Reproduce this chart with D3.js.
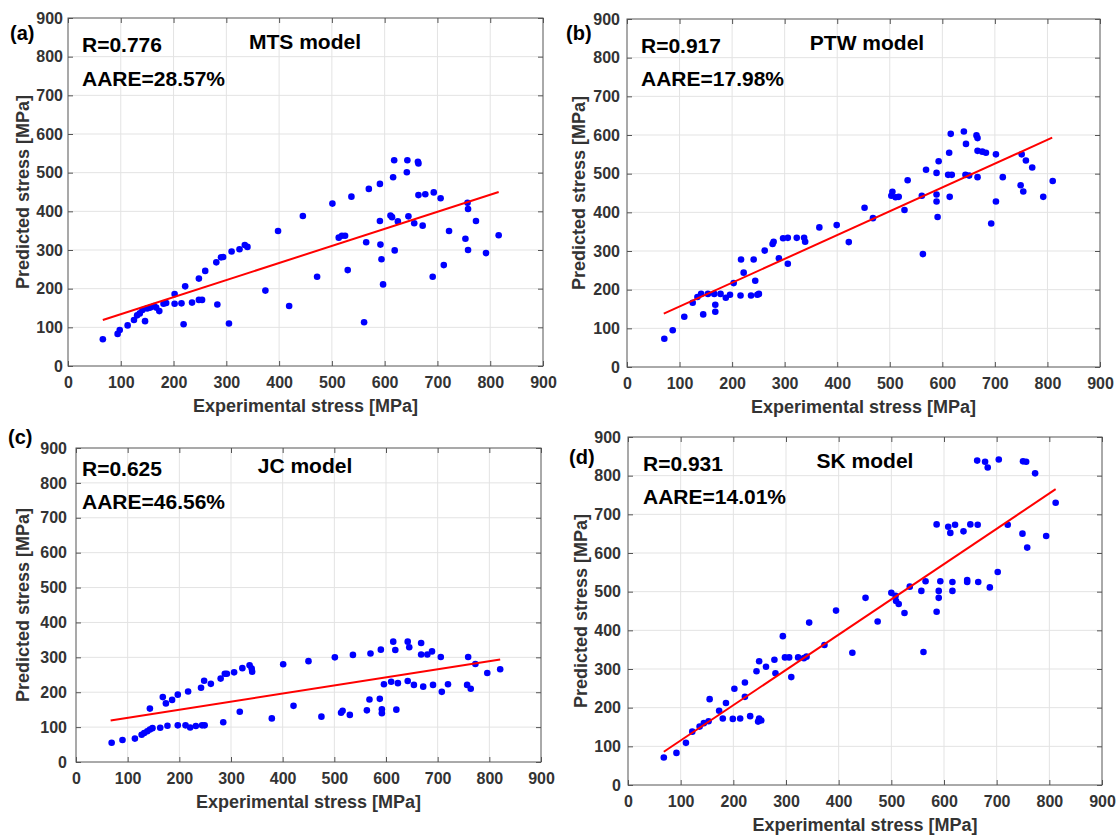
<!DOCTYPE html>
<html><head><meta charset="utf-8">
<script src="https://cdn.jsdelivr.net/npm/d3@7"></script>
<style>
body{margin:0;background:#fff}
svg{display:block}
text{font-family:"Liberation Sans",Arial,Helvetica,sans-serif;font-weight:bold}
</style>
</head><body>
<svg id="chart" width="1118" height="835"></svg>
<script>
// ---------------- DATA ----------------
const axisTicks = [0,100,200,300,400,500,600,700,800,900];
const xTitle = "Experimental stress [MPa]";
const yTitle = "Predicted stress [MPa]";

const panelLetters = ["(a)","(b)","(c)","(d)"];
const modelNames = ["MTS model","PTW model","JC model","SK model"];
const rLabels = ["R=0.776","R=0.917","R=0.625","R=0.931"];
const aareLabels = ["AARE=28.57%","AARE=17.98%","AARE=46.56%","AARE=14.01%"];

const mtsExp = [66,94,98,113,125,131,136,141,146,150,156,163,167,173,181,186,202,202,215,219,222,235,248,248,254,260,281,283,290,294,305,310,325,335,340,374,398,419,445,
  472,501,513,519,525,530,537,561,565,570,591,591,592,594,597,611,614,616,618,619,625,642,643,645,656,663,664,664,672,677,691,693,706,712,722,753,757,758,758,773,792,816];
const mtsPred = [69,83,93,105,119,131,136,145,116,149,151,155,151,142,161,163,186,161,162,108,206,164,226,171,171,246,268,159,281,282,110,296,302,313,308,195,349,155,388,
  231,420,332,337,337,248,438,113,320,458,471,375,314,276,211,389,385,488,532,299,374,501,532,387,369,528,524,442,363,444,231,449,434,261,349,329,422,406,300,375,292,338];
const mtsFitX = [66,816], mtsFitY = [119,450];

const ptwExp = [71,87,109,125,134,141,145,154,166,168,168,178,188,196,203,216,217,222,236,241,244,248,251,262,277,279,289,297,306,306,323,337,339,366,399,422,452,
  468,505,503,511,517,528,534,561,563,569,589,589,589,591,593,613,614,611,616,618,641,645,644,651,665,667,667,667,676,683,693,702,702,715,749,751,754,759,771,792,810];
const ptwPred = [73,95,130,166,181,189,136,189,189,161,143,189,179,187,217,185,278,244,185,278,223,187,189,301,318,324,281,333,267,334,334,334,324,361,367,323,412,
  385,453,443,439,440,406,483,443,292,510,502,446,428,388,532,554,440,497,603,497,609,577,497,495,599,592,559,491,557,554,371,550,428,491,470,550,454,534,516,440,481];
const ptwFitX = [70,809], ptwFitY = [138,593];

const jcExp = [69,90,114,127,132,138,143,143,148,163,168,174,177,186,197,197,212,217,221,232,242,244,249,248,261,280,285,288,292,306,317,322,336,340,341,379,401,421,450,
  475,501,513,516,530,536,563,568,570,588,590,592,592,596,610,614,618,620,623,642,642,645,654,668,668,672,680,689,691,706,708,720,757,759,764,773,796,821];
const jcPred = [55,63,67,78,83,88,93,153,97,98,186,168,104,178,193,105,105,202,99,103,213,105,105,233,224,239,114,253,253,257,144,269,277,268,259,125,280,161,289,
  130,300,141,147,135,307,148,179,311,181,322,151,140,223,230,345,321,150,226,345,232,329,221,341,308,216,308,317,221,301,201,223,221,301,210,281,255,266];
const jcFitX = [67,821], jcFitY = [119,294];

const skExp = [68,92,110,122,136,144,153,155,173,180,186,199,202,213,222,222,232,244,247,249,249,253,262,278,280,294,298,306,310,323,334,339,344,373,395,426,451,474,500,508,509,514,525,535,557,561,565,586,586,590,590,593,608,612,616,616,621,637,644,644,650,663,664,665,678,683,687,702,704,721,749,750,756,758,773,794,812];
const skPred = [71,83,109,138,151,160,165,222,192,172,212,171,249,172,265,228,178,294,164,320,172,167,306,324,289,385,330,330,279,330,328,332,420,362,451,342,484,423,497,489,476,468,445,513,502,344,527,674,448,502,484,527,668,652,525,502,673,656,530,525,674,839,673,525,836,821,511,551,842,673,650,837,836,614,806,644,730];
const skFitX = [68,812], skFitY = [86,765];

// ---------------- LAYOUT ----------------
const layout = [
  {l:68,  r:543,  t:18,  b:366, yPad:5, txtX:82,  rBase:51.5, aBase:86,  mX:305, mBase:49,  letX:10,  letBase:40,  yLabX:29},
  {l:627, r:1100, t:19,  b:367, yPad:7, txtX:641, rBase:53,   aBase:86,  mX:867, mBase:50,  letX:566, letBase:40,  yLabX:585},
  {l:76,  r:541,  t:448, b:762, yPad:9, txtX:82,  rBase:475.5,aBase:509, mX:305, mBase:473, letX:8,   letBase:444, yLabX:29},
  {l:628, r:1102, t:437, b:785, yPad:7, txtX:643, rBase:470.5,aBase:504, mX:865, mBase:468, letX:569, letBase:464, yLabX:587}
];
const series = [
  {ex:mtsExp, pr:mtsPred, fx:mtsFitX, fy:mtsFitY},
  {ex:ptwExp, pr:ptwPred, fx:ptwFitX, fy:ptwFitY},
  {ex:jcExp,  pr:jcPred,  fx:jcFitX,  fy:jcFitY},
  {ex:skExp,  pr:skPred,  fx:skFitX,  fy:skFitY}
];

const svg = d3.select("#chart");
const boxColor = "#555", gridColor = "#e3e3e3", tickTextColor = "#333";

layout.forEach((L, i) => {
  const S = series[i];
  const x = d3.scaleLinear().domain([0,900]).range([L.l, L.r]);
  const y = d3.scaleLinear().domain([0,900]).range([L.b, L.t]);
  const g = svg.append("g");

  // grid
  g.append("g").selectAll("line.gx").data(axisTicks.slice(1,-1)).join("line")
    .attr("x1", d => x(d)).attr("x2", d => x(d)).attr("y1", L.t).attr("y2", L.b)
    .attr("stroke", gridColor).attr("stroke-width", 1);
  g.append("g").selectAll("line.gy").data(axisTicks.slice(1,-1)).join("line")
    .attr("y1", d => y(d)).attr("y2", d => y(d)).attr("x1", L.l).attr("x2", L.r)
    .attr("stroke", gridColor).attr("stroke-width", 1);

  // axes
  const styleAxis = sel => {
    sel.select(".domain").remove();
    sel.selectAll(".tick line").attr("stroke", boxColor);
    sel.selectAll(".tick text").attr("fill", tickTextColor).style("font-size", "16px");
  };
  g.append("g").attr("transform", `translate(0,${L.b})`)
    .call(d3.axisBottom(x).tickValues(axisTicks).tickSizeInner(-5).tickSizeOuter(0).tickPadding(11))
    .call(styleAxis);
  g.append("g").attr("transform", `translate(${L.l},0)`)
    .call(d3.axisLeft(y).tickValues(axisTicks).tickSizeInner(-5).tickSizeOuter(0).tickPadding(L.yPad))
    .call(styleAxis);
  g.append("g").attr("transform", `translate(0,${L.t})`)
    .call(d3.axisTop(x).tickValues(axisTicks).tickSizeInner(-5).tickSizeOuter(0).tickFormat(""))
    .call(styleAxis);
  g.append("g").attr("transform", `translate(${L.r},0)`)
    .call(d3.axisRight(y).tickValues(axisTicks).tickSizeInner(-5).tickSizeOuter(0).tickFormat(""))
    .call(styleAxis);

  g.append("rect").attr("x", L.l).attr("y", L.t).attr("width", L.r - L.l).attr("height", L.b - L.t)
    .attr("fill", "none").attr("stroke", boxColor).attr("stroke-width", 1);

  // points
  g.append("g").selectAll("circle").data(S.ex.map((v, k) => [v, S.pr[k]])).join("circle")
    .attr("cx", d => x(d[0])).attr("cy", d => y(d[1])).attr("r", 3.3).attr("fill", "#0000ff");

  // fit line
  g.append("path").datum(S.fx.map((v, k) => [v, S.fy[k]]))
    .attr("d", d3.line().x(d => x(d[0])).y(d => y(d[1])))
    .attr("stroke", "#ff0000").attr("stroke-width", 2).attr("fill", "none");

  // texts
  g.append("text").attr("x", L.txtX).attr("y", L.rBase).text(rLabels[i]).style("font-size", "21px").attr("fill", "#000");
  g.append("text").attr("x", L.txtX).attr("y", L.aBase).text(aareLabels[i]).style("font-size", "21px").attr("fill", "#000");
  g.append("text").attr("x", L.mX).attr("y", L.mBase).attr("text-anchor", "middle").text(modelNames[i]).style("font-size", "21px").attr("fill", "#000");
  g.append("text").attr("x", L.letX).attr("y", L.letBase).text(panelLetters[i]).style("font-size", "20px").attr("fill", "#000");

  g.append("text").attr("x", (L.l + L.r) / 2).attr("y", L.b + 46).attr("text-anchor", "middle")
    .text(xTitle).style("font-size", "18px").attr("fill", "#333");
  g.append("text").attr("transform", `translate(${L.yLabX},${(L.t + L.b) / 2}) rotate(-90)`).attr("text-anchor", "middle")
    .text(yTitle).style("font-size", "18px").attr("fill", "#333");
});
</script>
</body></html>
